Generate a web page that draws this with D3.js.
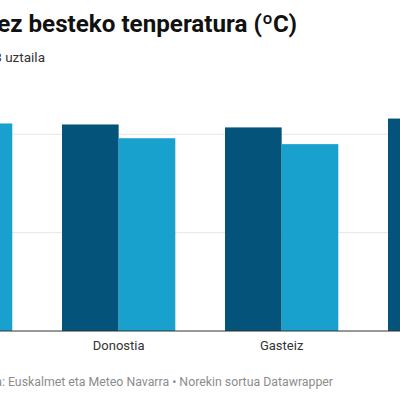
<!DOCTYPE html>
<html>
<head>
<meta charset="utf-8">
<script src="https://cdn.jsdelivr.net/npm/d3@7"></script>
<style>
  body { margin: 0; background: #fff; overflow: hidden; }
  text { font-family: Roboto, "Noto Sans", sans-serif; }
</style>
</head>
<body>
<svg id="my_svg"></svg>
<script>
const width = 400;
const height = 400;

// datuak
const categories = ['Bilbo', 'Donostia', 'Gasteiz', 'Iruñea'];
const series = ['2022', '2023'];
const values2022 = [21.4, 21.0, 20.7, 21.6];
const values2023 = [21.1, 19.6, 19.0, 20.2];
const yTicks = [0, 10, 20];

const colors = { '2022': '#03537a', '2023': '#19a1cd' };

const svg = d3.select('#my_svg')
    .attr('width', width)
    .attr('height', height);

// the chart is wider than the window, so the plot starts left of 0
const x = d3.scaleBand()
    .domain(categories)
    .range([-101, 501.3])
    .paddingInner(0.305)
    .paddingOuter(0);

const xInner = d3.scaleBand()
    .domain(series)
    .range([0, x.bandwidth()]);

const y = d3.scaleLinear()
    .domain([0, 20])
    .range([331, 134.3]);

// gridlines
svg.append('g')
    .selectAll('line')
    .data(yTicks.filter(d => d > 0))
    .enter().append('line')
    .attr('x1', -200)
    .attr('x2', 600)
    .attr('y1', d => y(d))
    .attr('y2', d => y(d))
    .attr('stroke', '#e6e6e6')
    .attr('stroke-width', 1);

const rows = categories.map((c, i) => ({ cat: c, '2022': values2022[i], '2023': values2023[i] }));

const groups = svg.append('g')
    .selectAll('g')
    .data(rows)
    .enter().append('g')
    .attr('transform', d => `translate(${x(d.cat)},0)`);

groups.selectAll('rect')
    .data(d => series.map(s => ({ key: s, value: d[s] })))
    .enter().append('rect')
    .attr('x', d => xInner(d.key))
    .attr('width', xInner.bandwidth())
    .attr('y', d => y(d.value))
    .attr('height', d => y(0) - y(d.value))
    .attr('fill', d => colors[d.key]);

// baseline
svg.append('line')
    .attr('x1', -200)
    .attr('x2', 600)
    .attr('y1', y(0))
    .attr('y2', y(0))
    .attr('stroke', '#333')
    .attr('stroke-width', 1);

// category labels
svg.append('g')
    .selectAll('text')
    .data(categories)
    .enter().append('text')
    .attr('x', d => x(d) + x.bandwidth() / 2)
    .attr('y', 350)
    .attr('text-anchor', 'middle')
    .attr('font-size', 13)
    .attr('fill', '#333')
    .text(d => d);

// title, subtitle, footer
svg.append('text')
    .attr('x', 297)
    .attr('y', 32)
    .attr('text-anchor', 'end')
    .attr('font-size', 24.2)
    .attr('font-weight', 'bold')
    .attr('fill', '#111')
    .text('Batez besteko tenperatura (ºC)');

svg.append('text')
    .attr('x', 45)
    .attr('y', 62)
    .attr('text-anchor', 'end')
    .attr('font-size', 13.5)
    .attr('fill', '#333')
    .text('2022 eta 2023 uztaila');

svg.append('text')
    .attr('x', 333)
    .attr('y', 386)
    .attr('text-anchor', 'end')
    .attr('font-size', 12.3)
    .attr('fill', '#8c8c8c')
    .text('Iturria: Euskalmet eta Meteo Navarra • Norekin sortua Datawrapper');
</script>
</body>
</html>
